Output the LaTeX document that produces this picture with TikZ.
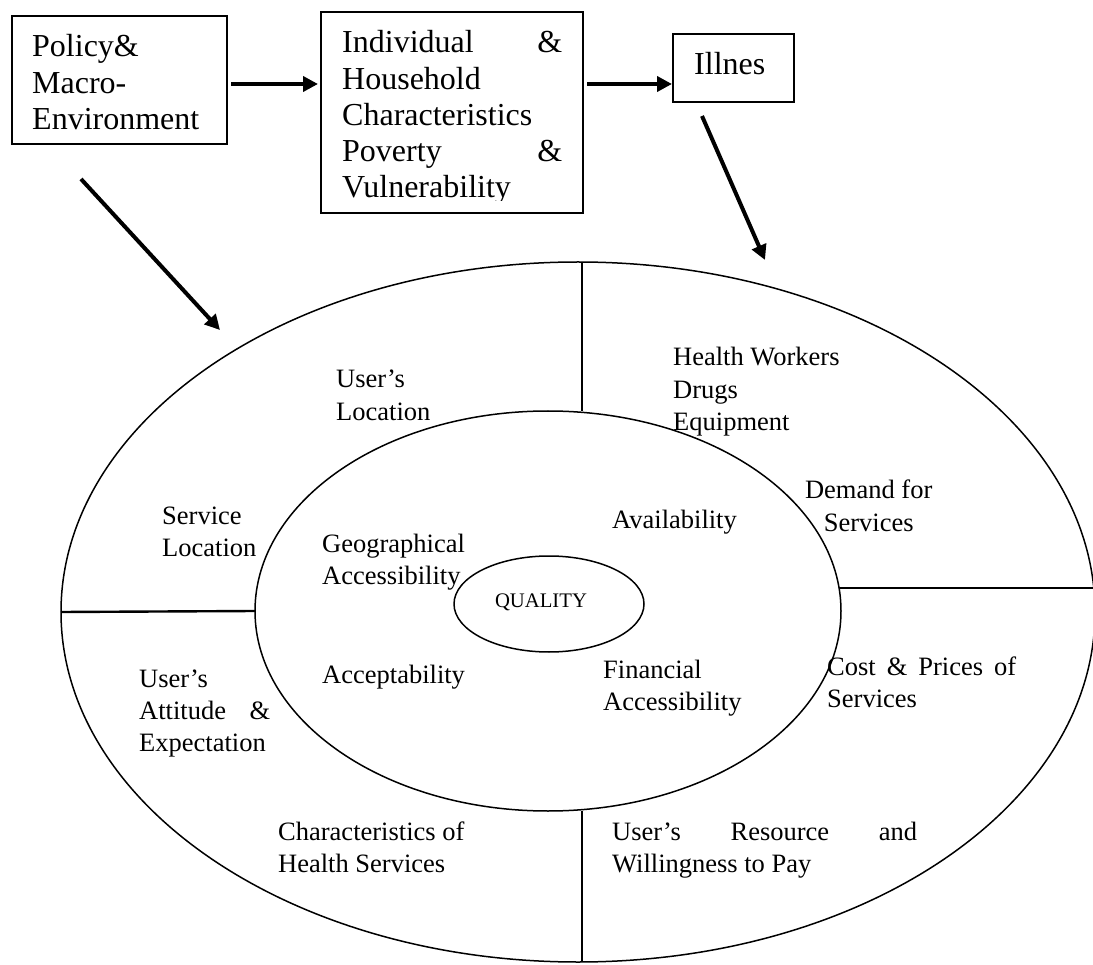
\documentclass[tikz,border=0pt]{standalone}
\usepackage{fontspec}
\setmainfont{Liberation Serif}
\usetikzlibrary{shapes.geometric,arrows.meta}
\begin{document}
\begin{tikzpicture}[x=1pt,y=-1pt,
  box/.style={draw, line width=1.2pt, inner sep=0pt, outer sep=0pt},
  ring/.style={ellipse, draw, line width=1.5pt, inner sep=0pt, outer sep=0pt},
  arr/.style={line width=4pt, -{Triangle[length=15pt,width=15pt]}},
  divider/.style={line width=2.4pt},
  big/.style={inner sep=0pt, anchor=base west, font=\fontsize{32}{36.2}\selectfont},
  lab/.style={inner sep=0pt, anchor=base west, font=\fontsize{26.5}{32.3}\selectfont},
  qual/.style={inner sep=0pt, anchor=base, font=\fontsize{20.7}{24}\selectfont},
]
\useasboundingbox (0,0) rectangle (1093,965);
\clip (0,0) rectangle (1093,965);

% top boxes
\node[box, minimum width=215pt, minimum height=128pt] (policy) at (119.5,80) {};
\node[box, minimum width=262pt, minimum height=201pt] (indiv) at (452,112.5) {};
\node[box, minimum width=121pt, minimum height=68pt] (illnes) at (733.5,68) {};

\node[big] (tpolicy) at (32,57) {\parbox[t]{190pt}{Policy\&\\Macro-\\Environment}};
\begin{scope}
  \clip (321,12) rectangle (583,201);
  \node[big] (tindiv) at (342,53) {\parbox[t]{220pt}{Individual\hfill\&\\Household\\Characteristics\\Poverty\hfill\&\\Vulnerability}};
\end{scope}
\node[big] (tillnes) at (694,75) {Illnes};

% rings
\node[ring, minimum width=1034pt, minimum height=700pt] (outer) at (578,612) {};
\node[ring, minimum width=586pt, minimum height=400pt] (inner) at (548,611) {};
\node[ring, minimum width=190pt, minimum height=96pt] (core) at (549,604) {};

% dividers
\coordinate (dv) at (582,0);
\coordinate (rl) at (839,588);
\draw[divider] (outer.north -| dv) -- (inner.north -| dv);
\draw[divider] (inner.south -| dv) -- (outer.south -| dv);
\draw[divider] (outer.west) -- (inner.west);
\draw[divider] (rl) -- (rl -| outer.east);

% arrows
\coordinate (t1) at (220,330);
\coordinate (t2) at (765,260);
\draw[arr] ([shift={(4,4)}]policy.east) -- ([shift={(-3,-28.5)}]indiv.west);
\draw[arr] ([shift={(4,-28.5)}]indiv.east) -- ([shift={(-1,16)}]illnes.west);
\draw[arr] ([shift={(-38.5,35)}]policy.south) -- (t1);
\draw[arr] ([shift={(-31.5,14)}]illnes.south) -- (t2);

% labels
\node[qual] (tqual) at (541,607) {QUALITY};
\node[lab] (l1) at (336,388) {\parbox[t]{150pt}{User’s\\Location}};
\node[lab] (l2) at (162,524) {\parbox[t]{150pt}{Service\\Location}};
\node[lab] (l3) at (322,552) {\parbox[t]{170pt}{Geographical\\Accessibility}};
\node[lab] (l4) at (673,366) {\parbox[t]{200pt}{Health Workers\\Drugs\\Equipment}};
\node[lab] (l5) at (803.5,499) {\parbox[t]{130pt}{\centering Demand for\\Services}};
\node[lab] (l6) at (612,529) {Availability};
\node[lab] (l7) at (139,687) {\parbox[t]{131pt}{User’s\\Attitude\hfill\&\\Expectation}};
\node[lab] (l8) at (322,683) {Acceptability};
\node[lab] (l9) at (603,678) {\parbox[t]{170pt}{Financial\\Accessibility}};
\node[lab] (l10) at (827,675) {\parbox[t]{189pt}{Cost\hfill\&\hfill Prices\hfill of\\Services}};
\node[lab] (l11) at (278,840) {\parbox[t]{220pt}{Characteristics of\\Health Services}};
\node[lab] (l12) at (612,840) {\parbox[t]{305pt}{User’s\hfill Resource\hfill and\\Willingness to Pay}};
\end{tikzpicture}
\end{document}
